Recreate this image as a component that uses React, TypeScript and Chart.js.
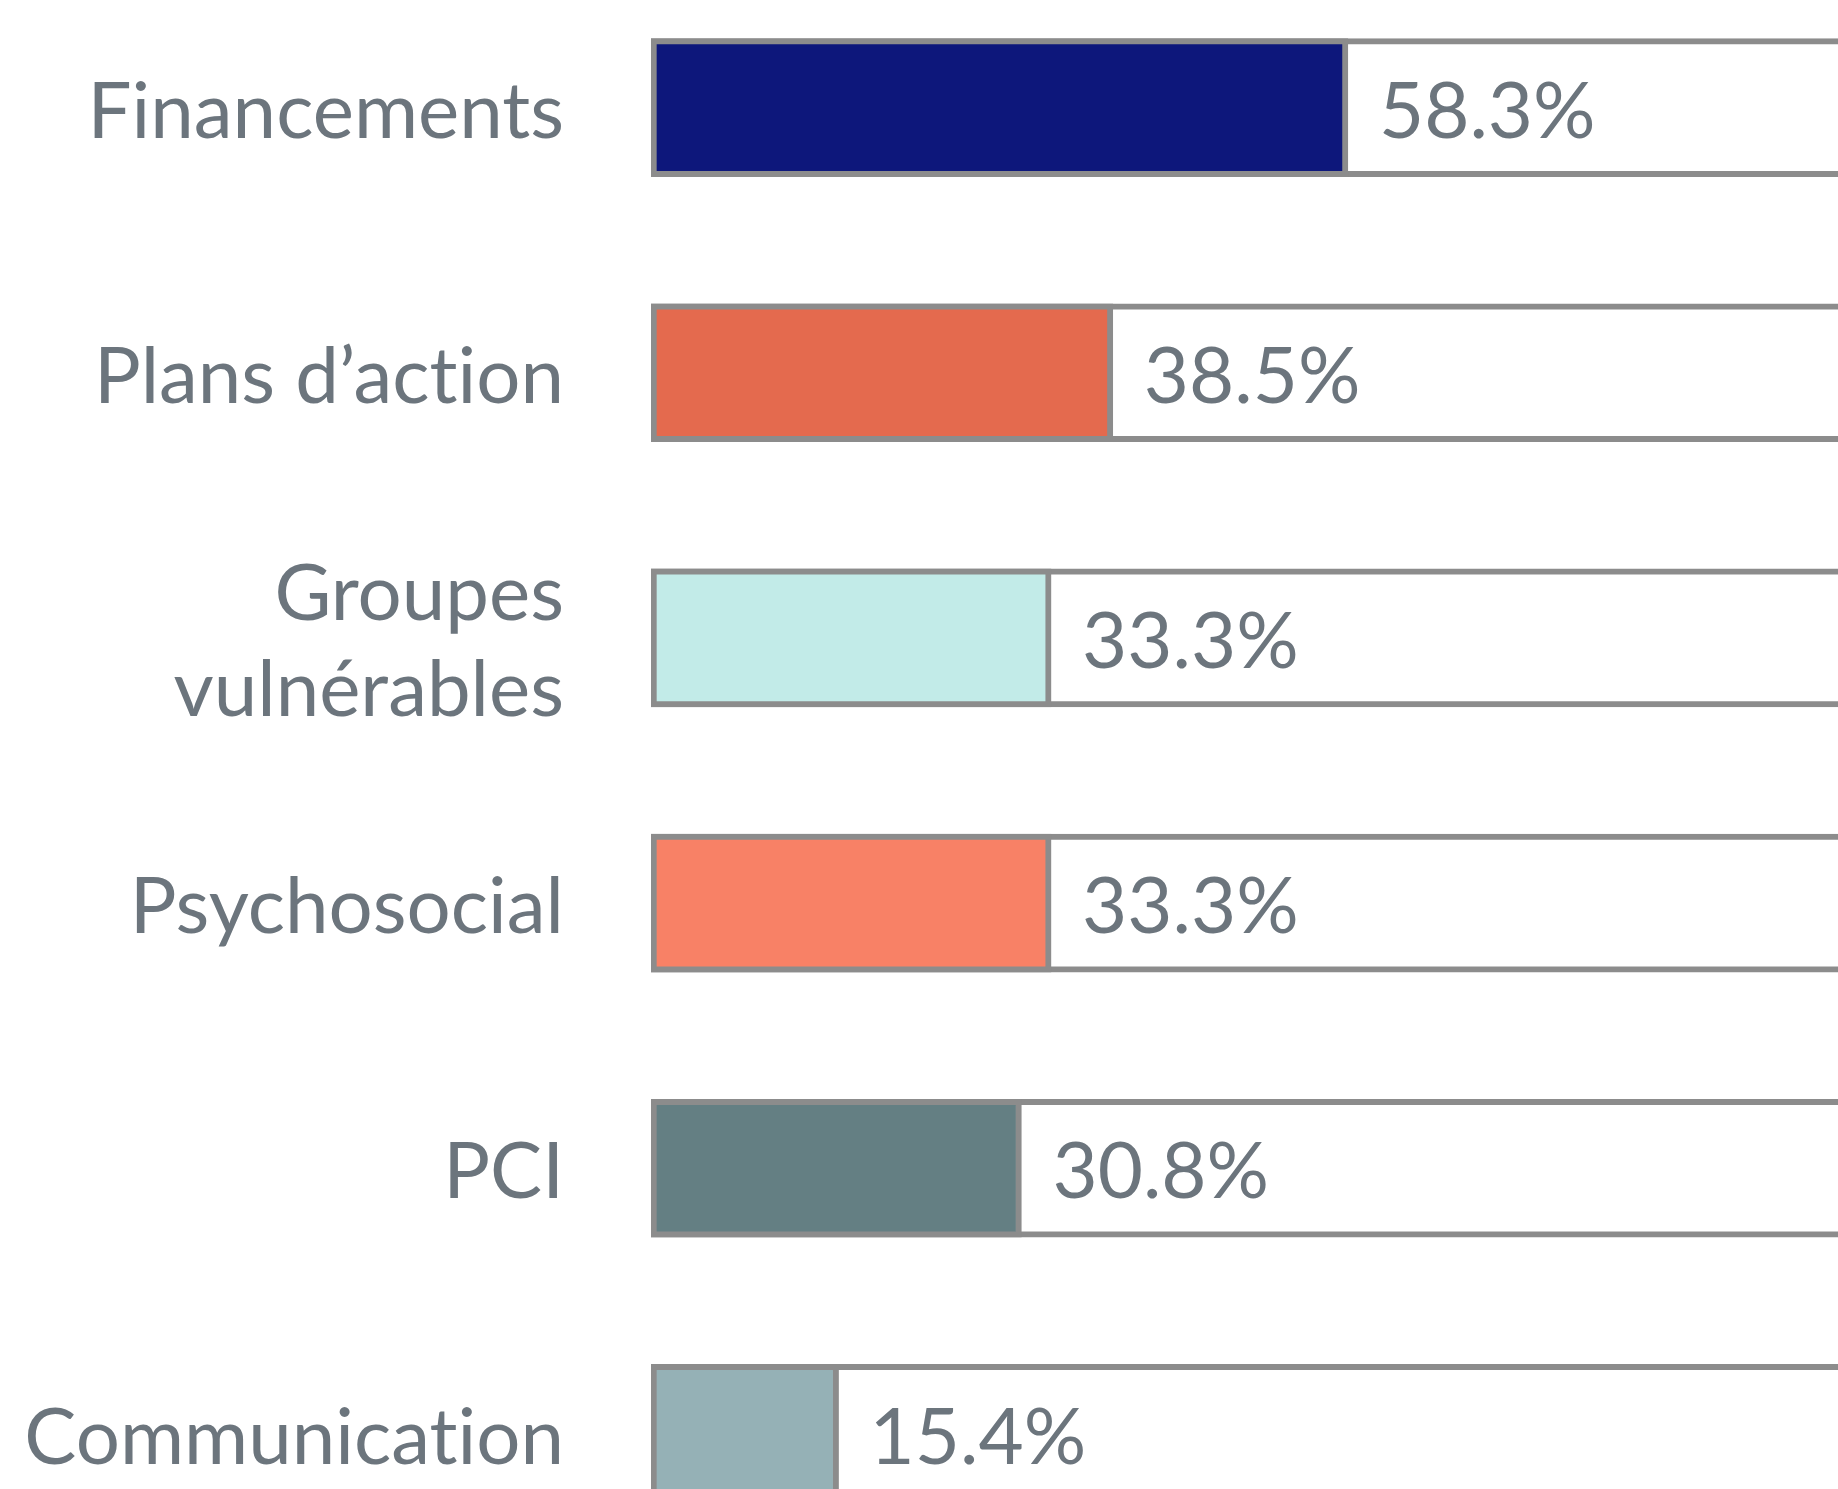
import React, { useEffect, useRef } from "react";
import { Chart, registerables } from "chart.js";

Chart.register(...registerables);

const categories: (string | string[])[] = [
  "Financements",
  "Plans d’action",
  ["Groupes", "vulnérables"],
  "Psychosocial",
  "PCI",
  "Communication",
];
const values = [58.3, 38.5, 33.3, 33.3, 30.8, 15.4];
const totals = [100, 100, 100, 100, 100, 100];
const barColors = ["#0d177b", "#e46a4e", "#c2ebe8", "#f88166", "#647f83", "#95b1b6"];

const X_MIN = -0.4;
const X_MAX = 100;

const BORDER = "#8c8c8c";
const TEXT = "#6c757d";
const FONT_FAMILY = "Lato, 'Open Sans', sans-serif";
const FONT_SIZE = 78;

const noLigatures = {
  id: "noLigatures",
  beforeDraw(chart: any) {
    try {
      (chart.ctx as any).letterSpacing = "0.01px";
    } catch (e) {}
  },
};

const valueLabels = {
  id: "valueLabels",
  afterDatasetsDraw(chart: any) {
    const meta = chart.getDatasetMeta(1);
    const ctx = chart.ctx;
    ctx.save();
    try {
      (ctx as any).letterSpacing = "0.01px";
    } catch (e) {}
    ctx.font = `${FONT_SIZE}px ${FONT_FAMILY}`;
    ctx.fillStyle = TEXT;
    ctx.textAlign = "left";
    ctx.textBaseline = "middle";
    meta.data.forEach((el: any, i: number) => {
      ctx.fillText(values[i].toFixed(1) + "%", el.x + 31, el.y + 5);
    });
    ctx.restore();
  },
};

export default function App() {
  const ref = useRef<HTMLCanvasElement | null>(null);

  useEffect(() => {
    if (!ref.current) return;
    const chart = new Chart(ref.current, {
      type: "bar",
      data: {
        labels: categories as any,
        datasets: [
          {
            data: totals,
            base: X_MIN,
            backgroundColor: "#ffffff",
            borderColor: BORDER,
            borderWidth: { top: 6, bottom: 6, left: 6, right: 0 },
            borderSkipped: false,
            barThickness: 138,
            grouped: false,
            order: 2,
          } as any,
          {
            data: values,
            base: X_MIN,
            backgroundColor: barColors,
            borderColor: BORDER,
            borderWidth: 6,
            borderSkipped: false,
            barThickness: 138,
            grouped: false,
            order: 1,
          } as any,
        ],
      },
      options: {
        indexAxis: "y",
        animation: false,
        responsive: false,
        maintainAspectRatio: false,
        devicePixelRatio: 1,
        layout: { padding: 0 },
        plugins: {
          legend: { display: false },
          tooltip: { enabled: false },
          title: { display: false },
        },
        scales: {
          x: {
            display: false,
            min: X_MIN,
            max: X_MAX,
          },
          y: {
            grid: { display: false, drawTicks: false },
            border: { display: false },
            ticks: {
              autoSkip: false,
              padding: 87,
              labelOffset: 5,
              color: TEXT,
              font: { family: FONT_FAMILY, size: FONT_SIZE, lineHeight: 1.23 },
            },
            afterFit(scale: any) {
              scale.width = 643;
              scale.paddingTop = 0;
              scale.paddingBottom = 0;
            },
          },
        },
      } as any,
      plugins: [noLigatures, valueLabels],
    });
    return () => chart.destroy();
  }, []);

  return (
    <div
      style={{
        position: "fixed",
        left: 0,
        top: 0,
        width: "100vw",
        height: "100vh",
        overflow: "hidden",
        background: "#ffffff",
      }}
    >
      <canvas
        ref={ref}
        width={1835}
        height={1591}
        style={{ position: "absolute", left: 8, top: -25, width: 1835, height: 1591 }}
      />
    </div>
  );
}
